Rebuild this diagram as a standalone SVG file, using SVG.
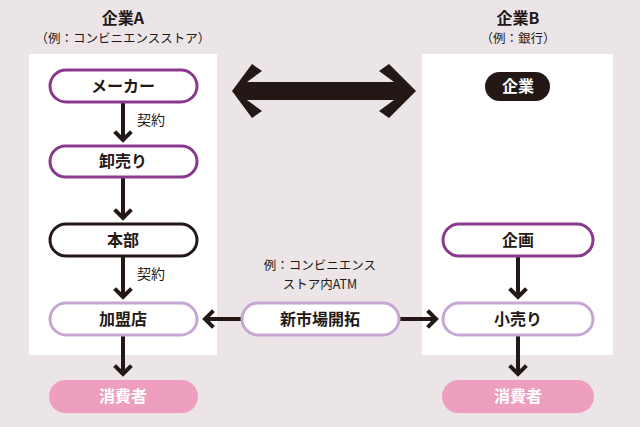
<svg xmlns="http://www.w3.org/2000/svg" width="640" height="427" viewBox="0 0 640 427">
<style>
text{font-family:"Noto Sans CJK JP","Noto Sans",sans-serif;text-anchor:middle}
.t{font-size:16px;font-weight:bold;fill:#231815}
.h{font-size:16px;font-weight:bold;fill:#231815}
.s{font-size:12.5px;fill:#231815}
.l{font-size:14px;fill:#231815;text-anchor:start}
.p{fill:#fff;stroke:#8a3a8c;stroke-width:3}
.lp{fill:#fff;stroke:#c6a7d4;stroke-width:3}
.k{fill:#fff;stroke:#231815;stroke-width:3}
.pk{fill:#ee9fc0}
.c{stroke:#231815;stroke-width:4;fill:none}
.ah{stroke:#231815;stroke-width:4;fill:none;stroke-linecap:square}
</style>
<rect width="640" height="427" fill="#ece5e8"/>
<rect x="29" y="54" width="188" height="301" fill="#fff"/>
<rect x="422" y="54" width="191" height="301" fill="#fff"/>
<text class="h" x="123" y="24">企業A</text>
<text class="s" x="123" y="43">（例：コンビニエンスストア）</text>
<text class="h" x="518" y="24">企業B</text>
<text class="s" x="518" y="43">（例：銀行）</text>
<g id="connectors">
<path d="M232 91 L252 64 L262 71 L247 82 L394 82 L379 71 L389 64 L416 91 L389 118 L379 111 L394 100 L247 100 L262 111 L252 118 Z" fill="#231815"/>
<path class="c" d="M123 103 V140"/><path class="ah" d="M116 133 L123 140 L130 133"/>
<path class="c" d="M123 178 V218"/><path class="ah" d="M116 211 L123 218 L130 211"/>
<path class="c" d="M123 257 V297"/><path class="ah" d="M116 290 L123 297 L130 290"/>
<path class="c" d="M123 336 V374"/><path class="ah" d="M116 367 L123 374 L130 367"/>
<path class="c" d="M518 257 V297"/><path class="ah" d="M511 290 L518 297 L525 290"/>
<path class="c" d="M518 336 V374"/><path class="ah" d="M511 367 L518 374 L525 367"/>
<path class="c" d="M241 319 H205"/><path class="ah" d="M212 312 L205 319 L212 326"/>
<path class="c" d="M400 319 H436"/><path class="ah" d="M429 312 L436 319 L429 326"/>
<text class="l" x="137" y="125">契約</text>
<text class="l" x="137" y="279">契約</text>
<text class="s" x="320" y="270">例：コンビニエンス</text>
<text class="s" x="320" y="289">ストア内ATM</text>
</g>
<g id="maker"><rect class="p" x="50" y="70" width="147" height="32" rx="16"/><text class="t" x="123" y="92">メーカー</text></g>
<g id="oroshi"><rect class="p" x="50" y="146" width="147" height="31" rx="15.5"/><text class="t" x="123" y="167">卸売り</text></g>
<g id="honbu"><rect class="k" x="50" y="224" width="147" height="32" rx="16"/><text class="t" x="123" y="246">本部</text></g>
<g id="kameiten"><rect class="lp" x="50" y="303" width="147" height="32" rx="16"/><text class="t" x="123" y="325">加盟店</text></g>
<g id="shohisha-a"><rect class="pk" x="49" y="380" width="149" height="33" rx="16.5"/><text class="t" x="123" y="402" style="fill:#fff">消費者</text></g>
<g id="kigyo"><rect x="485" y="72" width="65" height="29" rx="14.5" fill="#231815"/><text class="t" x="518" y="92" style="fill:#fff">企業</text></g>
<g id="kikaku"><rect class="p" x="443" y="224" width="150" height="32" rx="16"/><text class="t" x="518" y="246">企画</text></g>
<g id="kouri"><rect class="lp" x="443" y="303" width="150" height="32" rx="16"/><text class="t" x="518" y="325">小売り</text></g>
<g id="shohisha-b"><rect class="pk" x="442" y="380" width="152" height="33" rx="16.5"/><text class="t" x="518" y="402" style="fill:#fff">消費者</text></g>
<g id="shinshijo"><rect class="lp" x="242" y="303" width="157" height="32" rx="16"/><text class="t" x="320" y="325">新市場開拓</text></g>
</svg>
